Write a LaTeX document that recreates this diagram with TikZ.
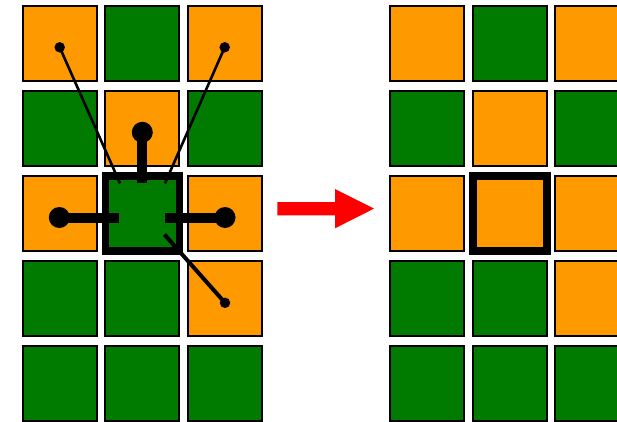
\documentclass[tikz,border=0pt]{standalone}
\usetikzlibrary{calc}
\definecolor{orng}{RGB}{255,153,0}
\definecolor{grn}{RGB}{0,123,0}
\definecolor{arrred}{RGB}{255,0,0}
\tikzset{
  cell/.style={draw=black, line width=1.6pt, minimum width=74pt, minimum height=75pt, inner sep=0pt, outer sep=0pt},
  oc/.style={cell, fill=orng},
  gc/.style={cell, fill=grn},
  hilite/.style={draw=black, line width=7.5pt, fill=none, minimum width=74pt, minimum height=75pt, inner sep=0pt, outer sep=0pt},
  thinlink/.style={draw=black, line width=2.6pt},
  midlink/.style={draw=black, line width=4pt},
  thicklink/.style={draw=black, line width=10pt},
  smalldot/.style={fill=black, circle, inner sep=0pt, minimum size=10.5pt},
  bigdot/.style={fill=black, circle, inner sep=0pt, minimum size=21pt},
}
\begin{document}
\begin{tikzpicture}[x=1pt,y=-1pt]
\useasboundingbox (0,0) rectangle (617,422);
\clip (0,0) rectangle (617,422);
% left grid
\node[oc] (L11) at (59.75,43.25) {};
\node[gc] (L12) at (142.25,43.25) {};
\node[oc] (L13) at (224.75,43.25) {};
\node[gc] (L21) at (59.75,128.25) {};
\node[oc] (L22) at (142.25,128.25) {};
\node[gc] (L23) at (224.75,128.25) {};
\node[oc] (L31) at (59.75,213.25) {};
\node[gc] (L32) at (142.25,213.25) {};
\node[oc] (L33) at (224.75,213.25) {};
\node[gc] (L41) at (59.75,298.25) {};
\node[gc] (L42) at (142.25,298.25) {};
\node[oc] (L43) at (224.75,298.25) {};
\node[gc] (L51) at (59.75,383.25) {};
\node[gc] (L52) at (142.25,383.25) {};
\node[gc] (L53) at (224.75,383.25) {};
\node[hilite] (LH) at (142.25,213.25) {};
% right grid
\node[oc] (R11) at (427.25,43.25) {};
\node[gc] (R12) at (509.75,43.25) {};
\node[oc] (R13) at (592.25,43.25) {};
\node[gc] (R21) at (427.25,128.25) {};
\node[oc] (R22) at (509.75,128.25) {};
\node[gc] (R23) at (592.25,128.25) {};
\node[oc] (R31) at (427.25,213.25) {};
\node[oc] (R32) at (509.75,213.25) {};
\node[oc] (R33) at (592.25,213.25) {};
\node[gc] (R41) at (427.25,298.25) {};
\node[gc] (R42) at (509.75,298.25) {};
\node[oc] (R43) at (592.25,298.25) {};
\node[gc] (R51) at (427.25,383.25) {};
\node[gc] (R52) at (509.75,383.25) {};
\node[gc] (R53) at (592.25,383.25) {};
\node[hilite] (RH) at (509.75,213.25) {};
% link end points
\coordinate (eTL) at (120,183.3);
\coordinate (eTR) at (165,183.3);
\coordinate (eT) at (142.3,183.3);
\coordinate (eL) at (119.3,217.5);
\coordinate (eR) at (165,217.5);
\coordinate (eBR) at (164.5,234.5);
% links
\path[thinlink] (59.7,47.3) coordinate (dTL) -- (eTL);
\path[thinlink] (224.7,47.3) coordinate (dTR) -- (eTR);
\path[thicklink] (142.3,132.3) coordinate (dT) -- (eT);
\path[thicklink] (59.3,217.5) coordinate (dL) -- (eL);
\path[thicklink] (225,217.5) coordinate (dR) -- (eR);
\path[midlink] (eBR) -- (225,302.8) coordinate (dBR);
\node[smalldot] (nTL) at (dTL) {};
\node[smalldot] (nTR) at (dTR) {};
\node[bigdot] (nT) at (dT) {};
\node[bigdot] (nL) at (dL) {};
\node[bigdot] (nR) at (dR) {};
\node[smalldot] (nBR) at (dBR) {};
% red arrow
\coordinate (aS) at (277.3,208.6);
\coordinate (aT) at (374,208.6);
\fill[arrred] (277.3,202) -- (335,202) -- (335,189) -- (aT) -- (335,228.3) -- (335,215.3) -- (277.3,215.3) -- cycle;
\end{tikzpicture}
\end{document}
